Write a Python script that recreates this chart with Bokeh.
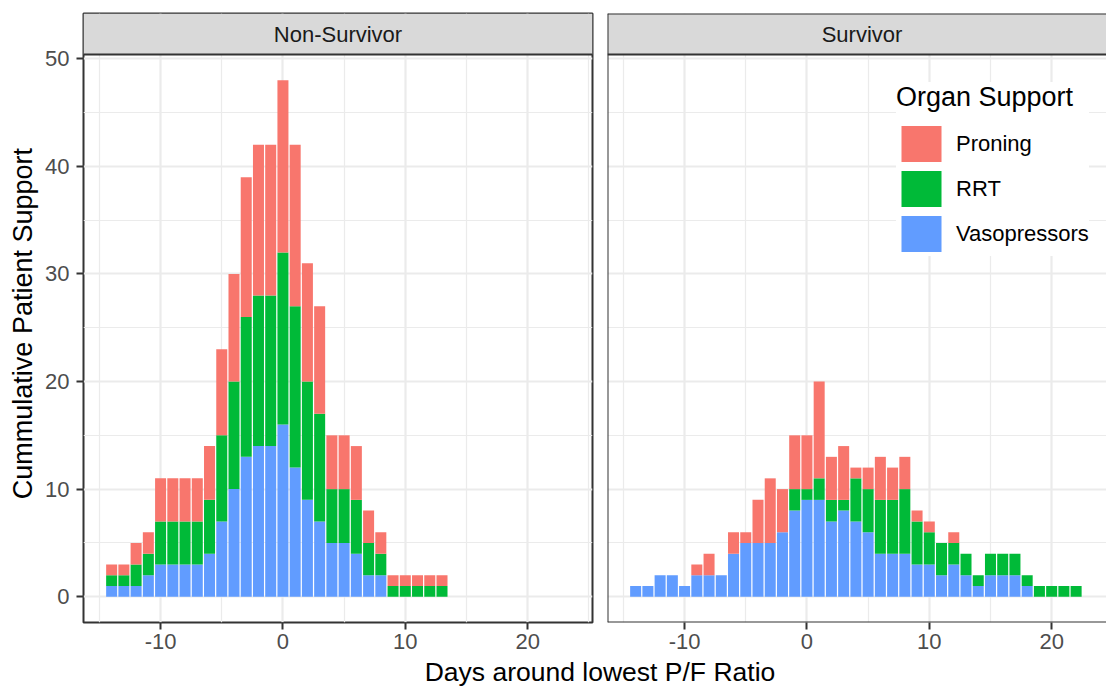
from bokeh.plotting import figure
from bokeh.models import (ColumnDataSource, Range1d, FixedTicker, Legend,
                          LegendItem, Label, Span, BoxAnnotation)
from bokeh.layouts import column, row
from bokeh.embed import file_html
from bokeh.resources import INLINE
import math

# ---------------- data ----------------
panels = ["Non-Survivor", "Survivor"]
series = ["Proning", "RRT", "Vasopressors"]
colors = {"Proning": "#F8766D", "RRT": "#00BA38", "Vasopressors": "#619CFF"}

days_ns = [-14, -13, -12, -11, -10, -9, -8, -7, -6, -5, -4, -3, -2, -1, 0,
           1, 2, 3, 4, 5, 6, 7, 8, 9, 10, 11, 12, 13]
vaso_ns = [1, 1, 1, 2, 3, 3, 3, 3, 4, 7, 10, 13, 14, 14, 16,
           12, 9, 7, 5, 5, 4, 2, 2, 0, 0, 0, 0, 0]
rrt_ns = [1, 1, 2, 2, 4, 4, 4, 4, 5, 8, 10, 13, 14, 14, 16,
          15, 11, 10, 5, 5, 5, 3, 2, 1, 1, 1, 1, 1]
pron_ns = [1, 1, 2, 2, 4, 4, 4, 4, 5, 8, 10, 13, 14, 14, 16,
           15, 11, 10, 5, 5, 5, 3, 2, 1, 1, 1, 1, 1]

days_s = [-14, -13, -12, -11, -10, -9, -8, -7, -6, -5, -4, -3, -2, -1, 0,
          1, 2, 3, 4, 5, 6, 7, 8, 9, 10, 11, 12, 13, 14, 15, 16, 17, 18,
          19, 20, 21, 22]
vaso_s = [1, 1, 2, 2, 1, 2, 2, 2, 4, 5, 5, 5, 6, 8, 9,
          9, 7, 8, 7, 6, 4, 4, 4, 3, 3, 2, 3, 2, 1, 2, 2, 2, 1,
          0, 0, 0, 0]
rrt_s = [0, 0, 0, 0, 0, 0, 0, 0, 0, 0, 0, 0, 0, 2, 1,
         2, 2, 1, 4, 4, 5, 5, 6, 4, 3, 3, 2, 2, 1, 2, 2, 2, 1,
         1, 1, 1, 1]
pron_s = [0, 0, 0, 0, 0, 1, 2, 0, 2, 1, 4, 6, 4, 5, 5,
          9, 4, 5, 1, 2, 4, 3, 3, 1, 1, 0, 1, 0, 0, 0, 0, 0, 0,
          0, 0, 0, 0]

x_ticks = [-10, 0, 10, 20]
x_tick_labels = ["-10", "0", "10", "20"]
x_minor = [-15, -5, 5, 15, 25]
y_ticks = [0, 10, 20, 30, 40, 50]
y_tick_labels = ["0", "10", "20", "30", "40", "50"]
y_minor = [5, 15, 25, 35, 45]

x_title = "Days around lowest P/F Ratio"
y_title = "Cummulative Patient Support"
legend_title = "Organ Support"

# ---------------- layout constants ----------------
FONT = "Liberation Sans"
TITLE_SIZE = "27px"
XTITLE_SIZE = "26.5px"
X_START, X_END = -16.3, 25.3
Y_START, Y_END = -2.4, 50.4
TOTAL_W, TOTAL_H = 1106, 687
YT_W = 40
LEFT_MBL, LEFT_FRAME_W, LEFT_MBR = 83 - YT_W, 509, 7
LEFT_W = LEFT_MBL + LEFT_FRAME_W + LEFT_MBR
RIGHT_W = TOTAL_W - YT_W - LEFT_W
RIGHT_MBL = 8
FRAME_TOP = 13
STRIP_PX = 41
PANEL_PX = 568
PANEL_MBB = 34
PANEL_H = FRAME_TOP + STRIP_PX + PANEL_PX + PANEL_MBB
XLAB_H = TOTAL_H - PANEL_H

px_per_day = LEFT_FRAME_W / (X_END - X_START)
right_frame_w = RIGHT_W - RIGHT_MBL
X_END_R = X_START + right_frame_w / px_per_day
px_per_unit = PANEL_PX / (Y_END - Y_START)
Y_TOP = Y_END + STRIP_PX / px_per_unit
MID = (X_START + X_END) / 2.0

BORDER = "#333333"
GRID = "#EBEBEB"


def make_panel(width, mbl, mbr, x_end, days, vaso, rrt, pron, show_y,
               full_outline, strip_text):
    p = figure(width=width, height=PANEL_H,
               x_range=Range1d(X_START, x_end),
               y_range=Range1d(Y_START, Y_TOP),
               min_border=0, min_border_left=mbl, min_border_right=mbr,
               min_border_top=FRAME_TOP, min_border_bottom=PANEL_MBB,
               y_axis_location="left" if show_y else None,
               background_fill_color="white", border_fill_color="white",
               toolbar_location=None, output_backend="svg")
    src = ColumnDataSource(dict(day=days, vaso=vaso, rrt=rrt, pron=pron))
    rs = p.vbar_stack(["vaso", "rrt", "pron"], x="day", width=0.9,
                      source=src,
                      fill_color=[colors["Vasopressors"], colors["RRT"],
                                  colors["Proning"]],
                      line_color=None)
    # grids
    p.xgrid.ticker = FixedTicker(ticks=x_ticks, minor_ticks=x_minor)
    p.ygrid.ticker = FixedTicker(ticks=y_ticks, minor_ticks=y_minor)
    for g in p.grid:
        g.grid_line_color = GRID
        g.grid_line_width = 2.2
        g.minor_grid_line_color = GRID
        g.minor_grid_line_width = 1.2
    # facet strip
    p.add_layout(BoxAnnotation(bottom=Y_END, fill_color="#D9D9D9",
                               fill_alpha=1.0, line_color=None,
                               level="underlay"))
    p.add_layout(Label(x=MID, y=(Y_END + Y_TOP) / 2.0, text=strip_text,
                       text_align="center", text_baseline="middle",
                       text_font=FONT, text_font_size="22px",
                       text_color="#1A1A1A"))
    # x axis
    xa = p.xaxis[0]
    xa.ticker = FixedTicker(ticks=x_ticks)
    xa.major_label_overrides = dict(zip(x_ticks, x_tick_labels))
    xa.axis_line_color = None
    xa.major_tick_line_color = BORDER
    xa.major_tick_line_width = 2
    xa.major_tick_out = 7
    xa.major_tick_in = 0
    xa.minor_tick_line_color = None
    xa.major_label_text_font = FONT
    xa.major_label_text_font_size = "22px"
    xa.major_label_text_color = "#4D4D4D"
    xa.major_label_standoff = 4
    if show_y:
        ya = p.yaxis[0]
        ya.ticker = FixedTicker(ticks=y_ticks)
        ya.major_label_overrides = dict(zip(y_ticks, y_tick_labels))
        ya.axis_line_color = None
        ya.major_tick_line_color = BORDER
        ya.major_tick_line_width = 2
        ya.major_tick_out = 7
        ya.major_tick_in = 0
        ya.minor_tick_line_color = None
        ya.major_label_text_font = FONT
        ya.major_label_text_font_size = "22px"
        ya.major_label_text_color = "#4D4D4D"
        ya.major_label_standoff = 7
    if full_outline:
        p.outline_line_color = BORDER
        p.outline_line_width = 2
        p.add_layout(Span(location=Y_END, dimension="width",
                          line_color=BORDER, line_width=2))
    else:
        p.outline_line_color = None
        for loc, dim in [(X_START, "height"), (Y_START, "width"),
                         (Y_END, "width"), (Y_TOP, "width")]:
            p.add_layout(Span(location=loc, dimension=dim,
                              line_color=BORDER, line_width=2))
    return p, rs


p_left, _ = make_panel(LEFT_W, LEFT_MBL, LEFT_MBR, X_END,
                       days_ns, vaso_ns, rrt_ns, pron_ns, True, True,
                       panels[0])
p_right, rs_right = make_panel(RIGHT_W, RIGHT_MBL, 0, X_END_R,
                               days_s, vaso_s, rrt_s, pron_s, False, False,
                               panels[1])

renderer_for = {"Vasopressors": rs_right[0], "RRT": rs_right[1],
                "Proning": rs_right[2]}
legend = Legend(
    items=[LegendItem(label=n, renderers=[renderer_for[n]]) for n in series],
    location=(289, 366), margin=0, padding=11, spacing=0,
    glyph_width=50, glyph_height=45, label_standoff=10,
    title=legend_title, title_text_font=FONT, title_text_font_size=TITLE_SIZE,
    title_text_font_style="normal", title_text_color="black",
    title_standoff=8,
    label_text_font=FONT, label_text_font_size="22px",
    label_text_color="black",
    border_line_color=None, background_fill_color="white",
    background_fill_alpha=1.0)
p_right.add_layout(legend)


def text_strip(width, height):
    f = figure(width=width, height=height, x_range=Range1d(0, 1),
               y_range=Range1d(0, 1), min_border=0,
               x_axis_location=None, y_axis_location=None,
               outline_line_color=None, toolbar_location=None,
               background_fill_color="white", border_fill_color="white",
               output_backend="svg")
    f.grid.visible = False
    return f


# y axis title, centred on the panel rows (strip excluded)
yt = text_strip(YT_W, PANEL_H)
title_mid_from_top = 334.0
yt.add_layout(Label(x=22.5 / YT_W, y=(PANEL_H - title_mid_from_top) / PANEL_H,
                    text=y_title, angle=math.pi / 2,
                    text_align="center", text_baseline="middle",
                    text_font=FONT, text_font_size=TITLE_SIZE,
                    text_color="black"))

# x axis title, centred on the two panels
xl = text_strip(TOTAL_W, XLAB_H)
full_left = YT_W + LEFT_MBL
full_right = YT_W + LEFT_W + RIGHT_MBL + (X_END - X_START) * px_per_day
center_px = (full_left + full_right) / 2.0
xl.add_layout(Label(x=center_px / TOTAL_W, y=0.5,
                    text=x_title,
                    text_align="center", text_baseline="middle",
                    text_font=FONT, text_font_size=XTITLE_SIZE,
                    text_color="black"))

layout = column(row(yt, p_left, p_right), xl)

open("out.html", "w").write(file_html(layout, INLINE))
